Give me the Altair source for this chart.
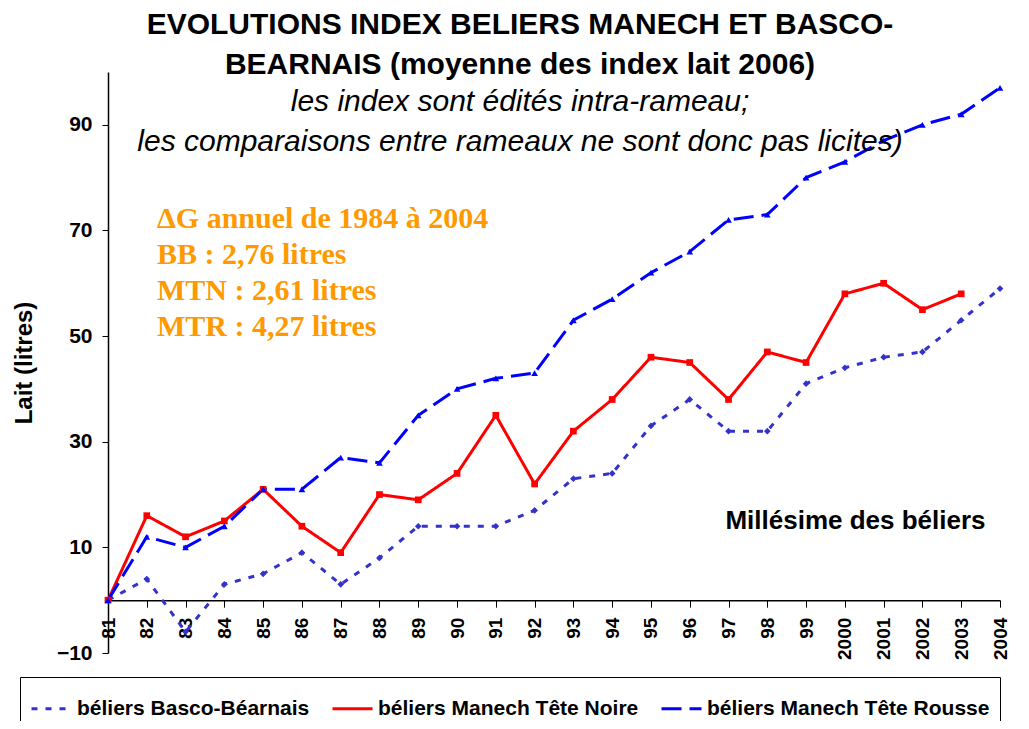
import altair as alt
import pandas as pd

# ---------------- data ----------------
years = ["81", "82", "83", "84", "85", "86", "87", "88", "89", "90", "91", "92",
         "93", "94", "95", "96", "97", "98", "99", "2000", "2001", "2002", "2003", "2004"]
bb_values = [0, 4, -6, 3, 5, 9, 3, 8, 14, 14, 14, 17, 23, 24, 33, 38, 32, 32, 41, 44, 46, 47, 53, 59]
mtn_values = [0, 16, 12, 15, 21, 14, 9, 20, 19, 24, 35, 22, 32, 38, 46, 45, 38, 47, 45, 58, 60, 55, 58, None]
mtr_values = [0, 12, 10, 14, 21, 21, 27, 26, 35, 40, 42, 43, 53, 57, 62, 66, 72, 73, 80, 83, 87, 90, 92, 97]
series = ["béliers Basco-Béarnais", "béliers Manech Tête Noire", "béliers Manech Tête Rousse"]
y_ticks = [-10, 10, 30, 50, 70, 90]

title_lines = ["EVOLUTIONS INDEX BELIERS MANECH ET BASCO-",
               "BEARNAIS (moyenne des index lait 2006)"]
subtitle_lines = ["les index sont édités intra-rameau;",
                  "les comparaisons entre rameaux ne sont donc pas licites)"]
annotation_lines = ["ΔG annuel de 1984 à 2004",
                    "BB : 2,76 litres",
                    "MTN : 2,61 litres",
                    "MTR : 4,27 litres"]

# ---------------- styles ----------------
colors = ["#3333CC", "#FF0000", "#0000FF"]
dashes = [[6, 8], [1, 0], [20, 8]]
shapes = ["diamond", "square", "triangle-up"]
SANS = "Liberation Sans"
SERIF = "Liberation Serif"
W, H = 892, 581

rows = []
for name, vals in zip(series, [bb_values, mtn_values, mtr_values]):
    for yr, v in zip(years, vals):
        if v is not None:
            rows.append({"annee": yr, "lait": v, "serie": name})
df = pd.DataFrame(rows)

x_enc = alt.X(
    "annee:O", sort=years,
    scale=alt.Scale(type="point", padding=0),
    axis=alt.Axis(
        labelAngle=270, labelFont=SANS, labelFontSize=19, labelFontWeight="bold",
        labelColor="black", tickColor="black", tickSize=7, labelPadding=10,
        domainColor="black", domainWidth=1.5, offset=-H * 10 / 110,
        title="Millésime des béliers", titleFont=SANS, titleFontSize=26,
        titleFontWeight="bold", titleColor="black", titleX=747, titleY=-80,
        titleAlign="center", titleBaseline="middle", labelOverlap=False,
    ),
)
y_enc = alt.Y(
    "lait:Q",
    scale=alt.Scale(domain=[-10, 100], nice=False, zero=False),
    axis=alt.Axis(
        values=y_ticks, grid=False, labelFont=SANS, labelFontSize=21,
        labelFontWeight="bold", labelColor="black", tickColor="black", tickSize=6,
        labelPadding=10, domainColor="black", domainWidth=1.5,
        title="Lait (litres)", titleFont=SANS, titleFontSize=24, titleFontWeight="bold",
        titleColor="black", titlePadding=20,
    ),
)

legend_def = alt.Legend(
    title="", orient="none", legendX=-88, legendY=605, direction="horizontal",
    fillColor="white", strokeColor="black", padding=10,
    labelFont=SANS, labelFontSize=21, labelFontWeight="bold", labelColor="black",
    symbolType="stroke", symbolSize=1600, symbolStrokeWidth=3, columnPadding=16,
    labelOffset=4, labelLimit=400,
)

base = alt.Chart(df).encode(x=x_enc, y=y_enc)

lines = base.mark_line(strokeWidth=3).encode(
    color=alt.Color("serie:N", sort=series,
                    scale=alt.Scale(domain=series, range=colors), legend=legend_def),
    strokeDash=alt.StrokeDash("serie:N", sort=series,
                              scale=alt.Scale(domain=series, range=dashes), legend=legend_def),
)

point_layers = [
    base.transform_filter(alt.datum.serie == name).mark_point(
        shape=shp, filled=True, color=col, size=45, opacity=1)
    for name, shp, col in zip(series, shapes, colors)
]

annot = alt.Chart(pd.DataFrame({"t": ["\n".join(annotation_lines)]})).mark_text(
    align="left", baseline="alphabetic", font=SERIF, fontSize=30, fontWeight="bold",
    color="#FF9900", lineBreak="\n", lineHeight=36,
).encode(x=alt.value(49), y=alt.value(156), text="t:N")

chart = alt.layer(lines, *point_layers, annot).properties(
    width=W, height=H,
    autosize=alt.AutoSizeParams(type="none"),
    padding={"left": 100, "top": 64, "right": 21, "bottom": 68},
    title=alt.TitleParams(
        text=title_lines, subtitle=subtitle_lines,
        font=SANS, fontSize=30, fontWeight="bold", color="black",
        subtitleFont=SANS, subtitleFontSize=30, subtitleFontStyle="italic",
        subtitleColor="black", anchor="middle", frame="group", dx=-34,
        offset=-85, lineHeight=40, subtitleLineHeight=40, subtitlePadding=7,
    ),
).configure_view(strokeWidth=0)

chart.save("out.html", embed_options={"renderer": "svg", "actions": False})
